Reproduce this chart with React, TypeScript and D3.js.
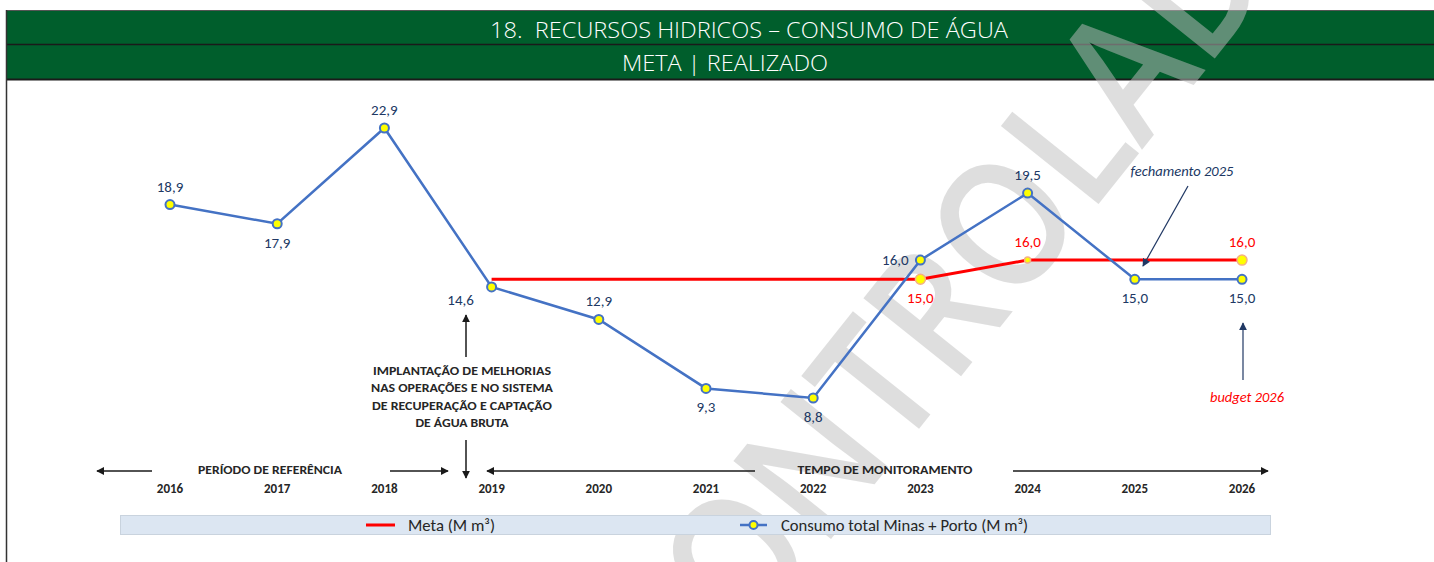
import * as d3 from 'd3';
import { useEffect, useRef } from 'react';

const width = 1434;
const height = 562;

const years = ['2016', '2017', '2018', '2019', '2020', '2021', '2022', '2023', '2024', '2025', '2026'];
const consumo = [18.9, 17.9, 22.9, 14.6, 12.9, 9.3, 8.8, 16.0, 19.5, 15.0, 15.0];
const consumoLabelPos = ['above', 'below', 'above', 'belowLeft', 'above', 'below', 'below', 'left', 'above', 'below', 'below'];
const metaYears = ['2019', '2020', '2021', '2022', '2023', '2024', '2025', '2026'];
const meta = [15.0, 15.0, 15.0, 15.0, 15.0, 16.0, 16.0, 16.0];
const metaMarkerYears = ['2023', '2024', '2026'];
const metaLabelPos = ['below', 'above', 'above'];

const title = '18.  RECURSOS HIDRICOS – CONSUMO DE ÁGUA';
const subtitle = 'META | REALIZADO';
const legendLabels = ['Meta (M m³)', 'Consumo total Minas + Porto (M m³)'];
const noteLines = ['IMPLANTAÇÃO DE MELHORIAS', 'NAS OPERAÇÕES E NO SISTEMA', 'DE RECUPERAÇÃO E CAPTAÇÃO', 'DE ÁGUA BRUTA'];

const font = "Carlito, 'Liberation Sans Narrow', 'Open Sans', sans-serif";
const navy = '#203864';
const blue = '#4472c4';
const red = '#ff0000';
const green = '#005e2c';

const fmt = (v: number) => d3.format('.1f')(v).replace('.', ',');

const offsets: Record<string, [number, number]> = {
  above: [0, -18],
  below: [0, 19],
  left: [-25, 0],
  belowLeft: [-31, 13],
};

function App() {
  const wrapperRef = useRef<HTMLDivElement>(null);

  useEffect(() => {
    const wrapper = d3.select(wrapperRef.current);
    const svg = wrapper
      .append('svg')
      .attr('width', width)
      .attr('height', height)
      .style('position', 'absolute')
      .style('left', 0)
      .style('top', 0)
      .style('font-family', font);

    const x = d3.scalePoint<string>().domain(years).range([170, 1242]);
    const y = d3.scaleLinear().domain([0, 22.9]).range([566.5, 128]);

    const defs = svg.append('defs');
    const mk = (id: string, color: string) =>
      defs
        .append('marker')
        .attr('id', id)
        .attr('viewBox', '0 0 10 10')
        .attr('refX', 9)
        .attr('refY', 5)
        .attr('markerWidth', 8)
        .attr('markerHeight', 8)
        .attr('markerUnits', 'userSpaceOnUse')
        .attr('orient', 'auto')
        .append('path')
        .attr('d', 'M0,0L10,5L0,10z')
        .attr('fill', color);
    mk('arrK', '#1a1a1a');
    mk('arrN', navy);

    svg.append('rect').attr('width', width).attr('height', height).attr('fill', '#fff');

    // header
    svg.append('rect').attr('x', 6).attr('y', 10).attr('width', width - 6).attr('height', 70).attr('fill', green);
    svg.append('line').attr('x1', 6).attr('x2', width).attr('y1', 10.5).attr('y2', 10.5).attr('stroke', '#555').attr('stroke-width', 1);
    svg.append('line').attr('x1', 6).attr('x2', width).attr('y1', 44.5).attr('y2', 44.5).attr('stroke', '#1a1a1a').attr('stroke-width', 1.5);
    svg.append('line').attr('x1', 6).attr('x2', width).attr('y1', 79.5).attr('y2', 79.5).attr('stroke', '#1a1a1a').attr('stroke-width', 2);
    svg.append('line').attr('x1', 6.5).attr('x2', 6.5).attr('y1', 10).attr('y2', height).attr('stroke', '#333').attr('stroke-width', 1.5);

    const headText = (tx: number, ty: number, s: string, len: number) =>
      svg
        .append('text')
        .attr('x', tx)
        .attr('y', ty)
        .attr('text-anchor', 'middle')
        .attr('dominant-baseline', 'central')
        .attr('fill', '#fff')
        .attr('font-size', 22)
        .attr('font-weight', 300)
        .attr('textLength', len)
        .attr('lengthAdjust', 'spacingAndGlyphs')
        .style('font-family', "'Open Sans', Lato, sans-serif")
        .style('white-space', 'pre')
        .text(s);
    headText(749, 29, title, 518);
    headText(725, 62, subtitle, 206);

    // watermark
    svg
      .append('g')
      .attr('transform', 'translate(685,722) rotate(-51.4)')
      .append('text')
      .attr('font-size', 175)
      .attr('font-weight', 600)
      .attr('fill', '#bfbfbf')
      .attr('opacity', 0.5)
      .attr('textLength', 1050)
      .attr('lengthAdjust', 'spacingAndGlyphs')
      .style('font-family', "'Open Sans', sans-serif")
      .text('CONTROLADA');

    // lines
    const line = d3
      .line<[string, number]>()
      .x((d) => x(d[0]) as number)
      .y((d) => y(d[1]));

    const metaData = metaYears.map((yr, i) => [yr, meta[i]] as [string, number]);
    const consData = years.map((yr, i) => [yr, consumo[i]] as [string, number]);

    svg.append('path').datum(metaData).attr('d', line).attr('fill', 'none').attr('stroke', red).attr('stroke-width', 3);

    svg
      .append('g')
      .selectAll('circle')
      .data(metaData.filter((d) => metaMarkerYears.includes(d[0])))
      .join('circle')
      .attr('cx', (d) => x(d[0]) as number)
      .attr('cy', (d) => y(d[1]))
      .attr('r', (d) => (d[0] === '2024' ? 3 : 5))
      .attr('fill', '#ffff00')
      .attr('stroke', '#f4b183')
      .attr('stroke-width', 1.5);

    svg.append('path').datum(consData).attr('d', line).attr('fill', 'none').attr('stroke', blue).attr('stroke-width', 2.5);

    svg
      .append('g')
      .selectAll('circle')
      .data(consData)
      .join('circle')
      .attr('cx', (d) => x(d[0]) as number)
      .attr('cy', (d) => y(d[1]))
      .attr('r', 4.5)
      .attr('fill', '#ffff00')
      .attr('stroke', blue)
      .attr('stroke-width', 2);

    // data labels
    svg
      .append('g')
      .selectAll('text')
      .data(consData)
      .join('text')
      .attr('x', (d, i) => (x(d[0]) as number) + offsets[consumoLabelPos[i]][0])
      .attr('y', (d, i) => y(d[1]) + offsets[consumoLabelPos[i]][1])
      .attr('text-anchor', 'middle')
      .attr('dominant-baseline', 'central')
      .attr('font-size', 15)
      .attr('fill', navy)
      .text((d) => fmt(d[1]));

    svg
      .append('g')
      .selectAll('text')
      .data(metaData.filter((d) => metaMarkerYears.includes(d[0])))
      .join('text')
      .attr('x', (d, i) => (x(d[0]) as number) + offsets[metaLabelPos[i]][0])
      .attr('y', (d, i) => y(d[1]) + offsets[metaLabelPos[i]][1])
      .attr('text-anchor', 'middle')
      .attr('dominant-baseline', 'central')
      .attr('font-size', 15)
      .attr('fill', red)
      .text((d) => fmt(d[1]));

    // year labels
    svg
      .append('g')
      .selectAll('text')
      .data(years)
      .join('text')
      .attr('x', (d) => x(d) as number)
      .attr('y', 488)
      .attr('text-anchor', 'middle')
      .attr('dominant-baseline', 'central')
      .attr('font-size', 13)
      .attr('font-weight', 'bold')
      .attr('fill', '#262626')
      .text((d) => d);

    // period arrows
    const arrow = (x1: number, y1: number, x2: number, y2: number, id: string, color: string, w = 1.5) =>
      svg
        .append('line')
        .attr('x1', x1)
        .attr('y1', y1)
        .attr('x2', x2)
        .attr('y2', y2)
        .attr('stroke', color)
        .attr('stroke-width', w)
        .attr('marker-end', `url(#${id})`);

    arrow(152, 471, 97, 471, 'arrK', '#1a1a1a');
    arrow(390, 471, 448, 471, 'arrK', '#1a1a1a');
    arrow(755, 471, 487, 471, 'arrK', '#1a1a1a');
    arrow(1013, 471, 1268, 471, 'arrK', '#1a1a1a');
    arrow(466, 440, 466, 478, 'arrK', '#1a1a1a');
    arrow(466, 357, 466, 315, 'arrK', '#1a1a1a');

    const boldText = (tx: number, ty: number, s: string, len: number) =>
      svg
        .append('text')
        .attr('x', tx)
        .attr('y', ty)
        .attr('text-anchor', 'middle')
        .attr('dominant-baseline', 'central')
        .attr('font-size', 12)
        .attr('font-weight', 'bold')
        .attr('fill', '#262626')
        .attr('textLength', len)
        .attr('lengthAdjust', 'spacingAndGlyphs')
        .text(s);

    boldText(270, 470, 'PERÍODO DE REFERÊNCIA', 144);
    boldText(885, 470, 'TEMPO DE MONITORAMENTO', 175);
    const noteLens = [178, 182, 180, 93];
    noteLines.forEach((s, i) => boldText(462, 371 + i * 17.4, s, noteLens[i]));

    // notes on the right
    svg
      .append('text')
      .attr('x', 1182)
      .attr('y', 171)
      .attr('text-anchor', 'middle')
      .attr('dominant-baseline', 'central')
      .attr('font-size', 14)
      .attr('font-style', 'italic')
      .attr('fill', navy)
      .attr('textLength', 103)
      .attr('lengthAdjust', 'spacingAndGlyphs')
      .text('fechamento 2025');
    arrow(1188, 186, 1143, 266, 'arrN', navy, 1.2);

    svg
      .append('text')
      .attr('x', 1247)
      .attr('y', 397)
      .attr('text-anchor', 'middle')
      .attr('dominant-baseline', 'central')
      .attr('font-size', 14)
      .attr('font-style', 'italic')
      .attr('fill', red)
      .attr('textLength', 74)
      .attr('lengthAdjust', 'spacingAndGlyphs')
      .text('budget 2026');
    arrow(1243, 380, 1243, 323, 'arrN', navy, 1.2);

    // legend
    const lg = svg.append('g');
    lg.append('rect')
      .attr('x', 120.5)
      .attr('y', 515.5)
      .attr('width', 1150)
      .attr('height', 19)
      .attr('fill', '#dce6f2')
      .attr('stroke', '#c9d3de');
    lg.append('line').attr('x1', 366).attr('x2', 395).attr('y1', 525).attr('y2', 525).attr('stroke', red).attr('stroke-width', 3);
    lg.append('text')
      .attr('x', 408)
      .attr('y', 525)
      .attr('dominant-baseline', 'central')
      .attr('font-size', 16)
      .attr('fill', '#262626')
      .attr('textLength', 87)
      .attr('lengthAdjust', 'spacingAndGlyphs')
      .text(legendLabels[0]);
    lg.append('line').attr('x1', 740).attr('x2', 767).attr('y1', 525).attr('y2', 525).attr('stroke', blue).attr('stroke-width', 2.5);
    lg.append('circle')
      .attr('cx', 753.5)
      .attr('cy', 525)
      .attr('r', 4)
      .attr('fill', '#ffff00')
      .attr('stroke', blue)
      .attr('stroke-width', 2);
    lg.append('text')
      .attr('x', 781)
      .attr('y', 525)
      .attr('dominant-baseline', 'central')
      .attr('font-size', 16)
      .attr('fill', '#262626')
      .attr('textLength', 247)
      .attr('lengthAdjust', 'spacingAndGlyphs')
      .text(legendLabels[1]);

    return () => {
      wrapper.select('svg').remove();
    };
  }, []);

  return <div ref={wrapperRef}></div>;
}

export default App;
